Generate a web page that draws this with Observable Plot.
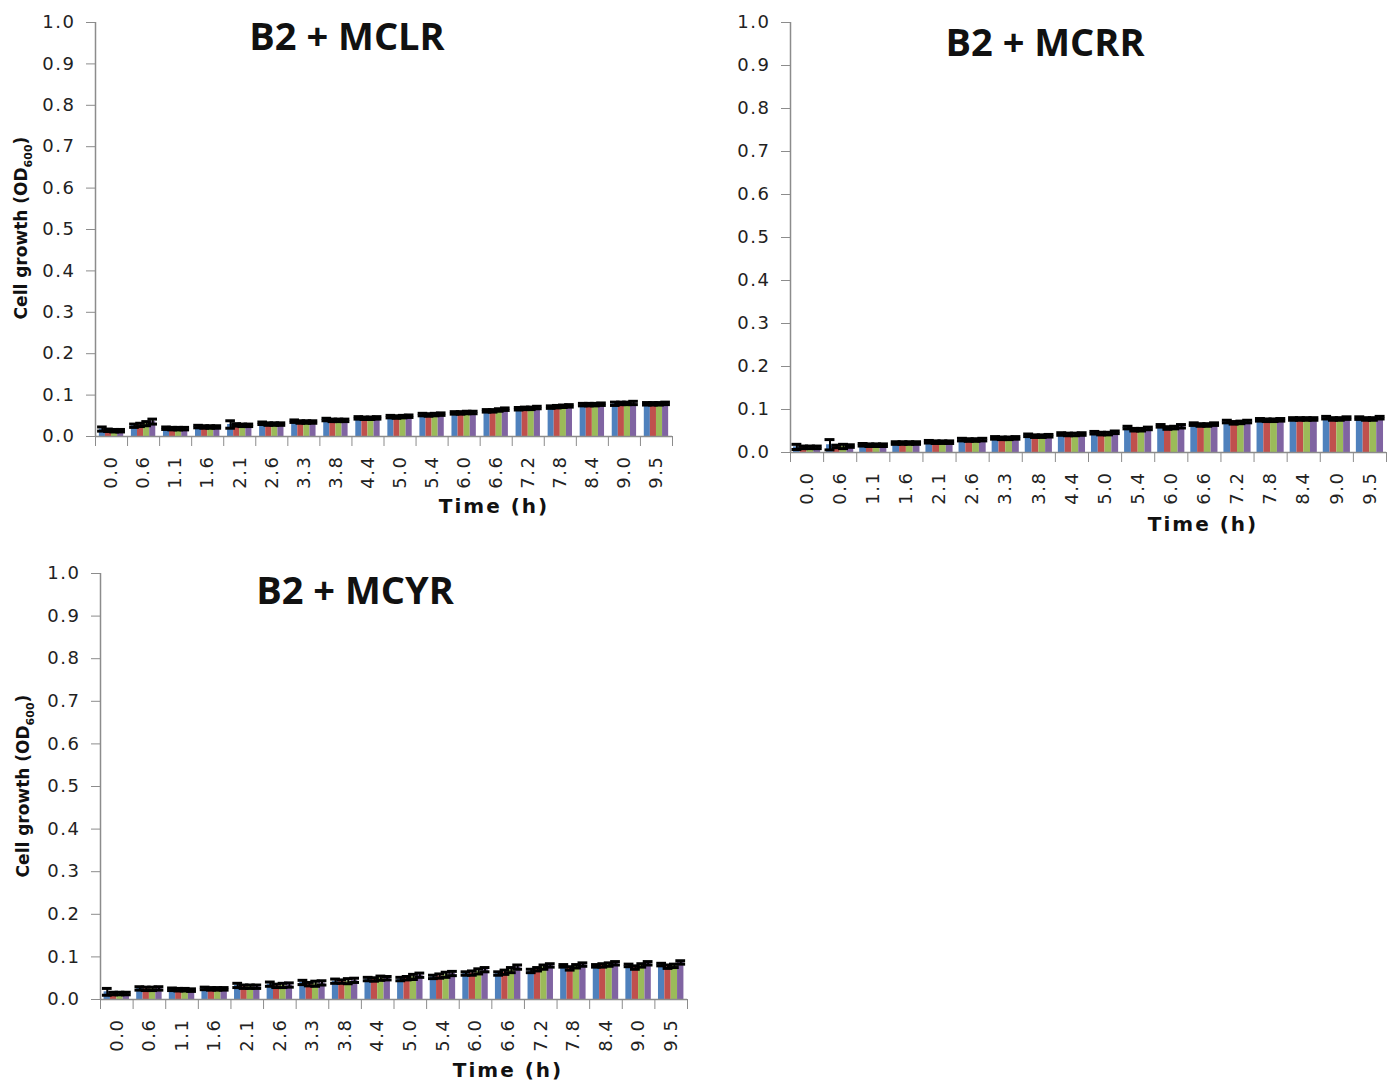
<!DOCTYPE html>
<html><head><meta charset="utf-8">
<script src="https://cdn.jsdelivr.net/npm/d3@7"></script>
<script src="https://cdn.jsdelivr.net/npm/@observablehq/plot@0.6"></script>
<style>
body{margin:0;background:#fff;width:1399px;height:1081px;position:relative;overflow:hidden;}
.panel{position:absolute;}
.panel svg{overflow:visible;max-width:none;}
.panel svg text{letter-spacing:1.5px;}
.title{position:absolute;font-family:"Open Sans";font-weight:700;font-size:38px;line-height:38px;transform:translateX(-50%);white-space:nowrap;color:#111;}
.xlab{position:absolute;font-family:"DejaVu Sans";font-weight:bold;font-size:20px;letter-spacing:2px;transform:translate(-50%,-50%);white-space:nowrap;color:#111;}
.ylab{position:absolute;font-family:"DejaVu Sans";font-weight:bold;font-size:17px;transform:translate(-50%,-50%) rotate(-90deg);white-space:nowrap;color:#111;}
.ylab sub{font-size:11px;}
</style>
</head><body>
<script>
const times = ["0.0","0.6","1.1","1.6","2.1","2.6","3.3","3.8","4.4","5.0","5.4","6.0","6.6","7.2","7.8","8.4","9.0","9.5"];
const seriesColors = ["#4F81BD","#C0504D","#9BBB59","#8064A2"];
const yTicks = [0,0.1,0.2,0.3,0.4,0.5,0.6,0.7,0.8,0.9,1.0];

// B2 + MCLR
const mclrBlue   = [0.018,0.026,0.020,0.024,0.029,0.032,0.037,0.041,0.045,0.048,0.053,0.057,0.062,0.067,0.071,0.077,0.079,0.079];
const mclrRed    = [0.015,0.028,0.019,0.023,0.028,0.030,0.035,0.039,0.044,0.047,0.052,0.057,0.062,0.068,0.072,0.077,0.080,0.079];
const mclrGreen  = [0.014,0.031,0.019,0.023,0.027,0.030,0.035,0.039,0.044,0.048,0.053,0.058,0.064,0.068,0.073,0.077,0.080,0.079];
const mclrPurple = [0.014,0.036,0.019,0.023,0.027,0.030,0.035,0.039,0.045,0.049,0.054,0.058,0.066,0.070,0.074,0.078,0.081,0.080];
const mclrErrBlue   = [0.005,0.004,0.003,0.003,0.009,0.003,0.003,0.003,0.003,0.003,0.003,0.003,0.003,0.003,0.003,0.003,0.004,0.003];
const mclrErrRed    = [0.003,0.004,0.003,0.003,0.003,0.003,0.003,0.003,0.003,0.003,0.003,0.003,0.003,0.003,0.003,0.003,0.003,0.003];
const mclrErrGreen  = [0.003,0.005,0.003,0.003,0.003,0.003,0.003,0.003,0.003,0.003,0.003,0.003,0.003,0.003,0.003,0.003,0.003,0.003];
const mclrErrPurple = [0.003,0.006,0.003,0.003,0.003,0.003,0.003,0.003,0.003,0.003,0.003,0.003,0.003,0.003,0.003,0.003,0.004,0.003];

// B2 + MCRR
const mcrrBlue   = [0.013,0.018,0.018,0.022,0.025,0.030,0.034,0.040,0.043,0.046,0.058,0.062,0.066,0.072,0.076,0.078,0.081,0.080];
const mcrrRed    = [0.012,0.014,0.017,0.022,0.024,0.029,0.033,0.038,0.042,0.044,0.053,0.057,0.064,0.069,0.075,0.078,0.078,0.078];
const mcrrGreen  = [0.012,0.014,0.017,0.022,0.024,0.029,0.033,0.038,0.042,0.044,0.053,0.058,0.064,0.070,0.075,0.078,0.078,0.078];
const mcrrPurple = [0.012,0.015,0.017,0.022,0.024,0.030,0.034,0.039,0.043,0.047,0.056,0.061,0.066,0.072,0.076,0.078,0.080,0.081];
const mcrrErrBlue   = [0.006,0.012,0.003,0.003,0.003,0.003,0.003,0.003,0.003,0.003,0.003,0.003,0.003,0.003,0.003,0.003,0.003,0.003];
const mcrrErrRed    = [0.003,0.003,0.003,0.003,0.003,0.003,0.003,0.003,0.003,0.003,0.003,0.003,0.003,0.003,0.003,0.003,0.003,0.003];
const mcrrErrGreen  = [0.003,0.005,0.003,0.003,0.003,0.003,0.003,0.003,0.003,0.003,0.003,0.003,0.003,0.003,0.003,0.003,0.003,0.003];
const mcrrErrPurple = [0.003,0.003,0.003,0.003,0.003,0.003,0.003,0.003,0.003,0.003,0.003,0.004,0.003,0.003,0.003,0.003,0.003,0.003];

// B2 + MCYR
const mcyrBlue   = [0.018,0.026,0.024,0.026,0.033,0.036,0.040,0.043,0.048,0.048,0.053,0.061,0.061,0.067,0.079,0.079,0.080,0.082];
const mcyrRed    = [0.014,0.025,0.023,0.025,0.030,0.032,0.036,0.042,0.047,0.050,0.055,0.062,0.064,0.071,0.073,0.080,0.075,0.077];
const mcyrGreen  = [0.014,0.025,0.023,0.025,0.030,0.033,0.037,0.043,0.050,0.053,0.058,0.066,0.069,0.076,0.078,0.082,0.080,0.079];
const mcyrPurple = [0.014,0.026,0.022,0.025,0.030,0.034,0.039,0.045,0.050,0.057,0.061,0.070,0.076,0.080,0.082,0.085,0.085,0.087];
const mcyrErrBlue   = [0.008,0.004,0.003,0.003,0.005,0.005,0.005,0.005,0.004,0.004,0.004,0.004,0.004,0.004,0.003,0.003,0.003,0.003];
const mcyrErrRed    = [0.003,0.004,0.003,0.003,0.004,0.004,0.004,0.004,0.004,0.004,0.005,0.005,0.005,0.004,0.004,0.004,0.004,0.004];
const mcyrErrGreen  = [0.003,0.004,0.003,0.003,0.004,0.005,0.006,0.006,0.005,0.006,0.006,0.006,0.006,0.005,0.004,0.004,0.004,0.004];
const mcyrErrPurple = [0.003,0.004,0.003,0.003,0.004,0.005,0.005,0.005,0.004,0.005,0.005,0.005,0.005,0.004,0.004,0.004,0.004,0.004];

function drawPanel(cfg) {
  const {series, errs, svgX, svgY, svgW, svgH, left, top, right, bottom, barFrac} = cfg;
  const off = (1 - barFrac) / 2, bw = barFrac / 4, cap = 0.15;
  const rows = [];
  series.forEach((vals, k) => vals.forEach((v, i) => {
    const x1 = i + off + k * bw;
    rows.push({k, i, v, e: errs[k][i], x1, x2: x1 + bw, xc: x1 + bw / 2});
  }));
  const marks = [];
  series.forEach((_, k) => {
    marks.push(Plot.rect(rows.filter(d => d.k === k), {x1: "x1", x2: "x2", y1: 0, y2: "v", fill: seriesColors[k]}));
  });
  marks.push(
    Plot.ruleX(rows, {x: "xc", y1: d => d.v - d.e, y2: d => d.v + d.e, stroke: "#000", strokeWidth: 2}),
    Plot.ruleY(rows, {y: d => d.v + d.e, x1: d => d.xc - cap, x2: d => d.xc + cap, stroke: "#000", strokeWidth: 3}),
    Plot.ruleY(rows, {y: d => d.v - d.e, x1: d => d.xc - cap, x2: d => d.xc + cap, stroke: "#000", strokeWidth: 3}),
    Plot.ruleY([0], {stroke: "#8c8c8c", strokeWidth: 1.5}),
    Plot.ruleX([0], {stroke: "#8c8c8c", strokeWidth: 1.5}),
    Plot.axisY({ticks: yTicks, tickFormat: d => d.toFixed(1), tickSize: 9, tickPadding: 11, stroke: "#8c8c8c", fill: "#222", label: null}),
    Plot.axisX({ticks: d3.range(times.length + 1), tickSize: 10, tickFormat: () => "", stroke: "#8c8c8c", label: null}),
    Plot.axisX({ticks: times.map((t, i) => i + 0.5), tickSize: 0, tickPadding: 19, tickRotate: -90, tickFormat: d => times[Math.floor(d)], fill: "#222", label: null})
  );
  const chart = Plot.plot({
    width: svgW, height: svgH,
    marginLeft: left - svgX, marginTop: top - svgY,
    marginRight: svgX + svgW - right, marginBottom: svgY + svgH - bottom,
    x: {domain: [0, times.length]},
    y: {domain: [0, 1]},
    style: {fontFamily: "DejaVu Sans", fontSize: "18px", background: "transparent", overflow: "visible"},
    marks
  });
  const div = document.createElement("div");
  div.className = "panel";
  div.style.left = svgX + "px";
  div.style.top = svgY + "px";
  div.appendChild(chart);
  document.body.appendChild(div);
}

function addText(cls, html, x, y) {
  const d = document.createElement("div");
  d.className = cls;
  d.innerHTML = html;
  d.style.left = x + "px";
  d.style.top = y + "px";
  document.body.appendChild(d);
}

drawPanel({series: [mclrBlue, mclrRed, mclrGreen, mclrPurple],
  errs: [mclrErrBlue, mclrErrRed, mclrErrGreen, mclrErrPurple],
  svgX: 0, svgY: 0, svgW: 700, svgH: 540, left: 95, top: 22, right: 672, bottom: 436, barFrac: 0.76});
drawPanel({series: [mcrrBlue, mcrrRed, mcrrGreen, mcrrPurple],
  errs: [mcrrErrBlue, mcrrErrRed, mcrrErrGreen, mcrrErrPurple],
  svgX: 700, svgY: 0, svgW: 699, svgH: 540, left: 790, top: 22, right: 1386, bottom: 452, barFrac: 0.82});
drawPanel({series: [mcyrBlue, mcyrRed, mcyrGreen, mcyrPurple],
  errs: [mcyrErrBlue, mcyrErrRed, mcyrErrGreen, mcyrErrPurple],
  svgX: 0, svgY: 540, svgW: 700, svgH: 541, left: 100, top: 573, right: 687, bottom: 999, barFrac: 0.78});

addText("title", "B2 + MCLR", 347, 16);
addText("title", "B2 + MCRR", 1045, 22);
addText("title", "B2 + MCYR", 355, 570);
addText("xlab", "Time (h)", 494, 506);
addText("xlab", "Time (h)", 1203, 524);
addText("xlab", "Time (h)", 508, 1070);
addText("ylab", "Cell growth (OD<sub>600</sub>)", 23, 228);
addText("ylab", "Cell growth (OD<sub>600</sub>)", 25, 786);
</script>
</body></html>
